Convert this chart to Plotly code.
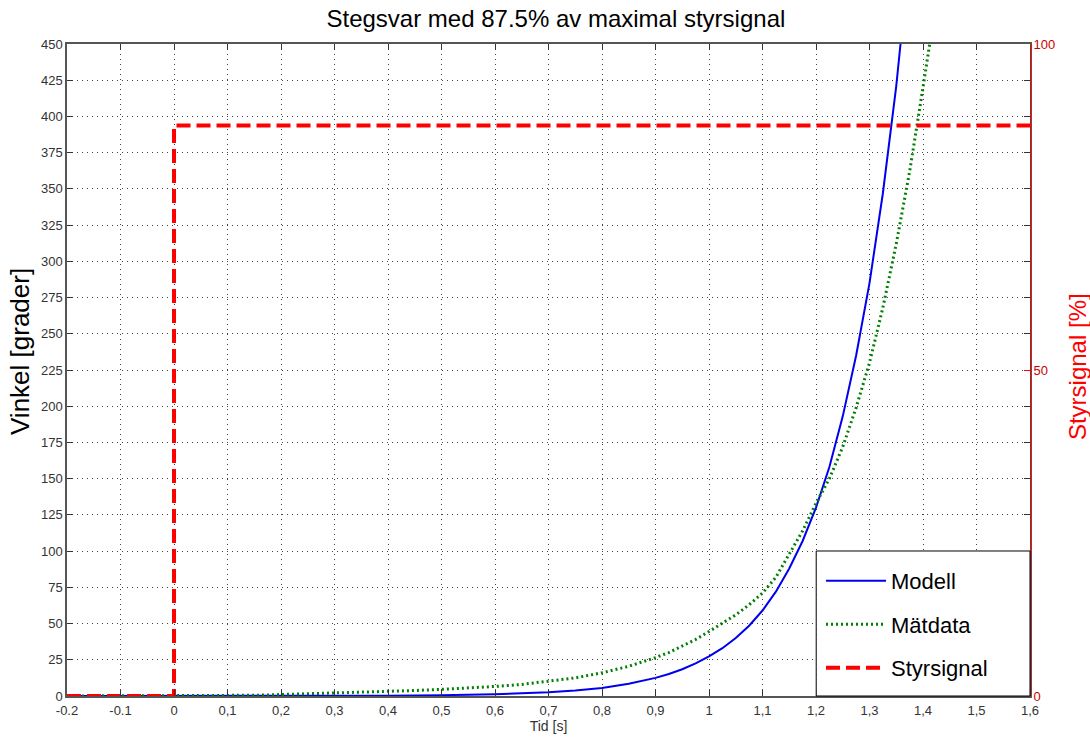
import plotly.graph_objects as go

# ---- data ----
t_model = [-0.2, 0.0, 0.1, 0.2, 0.3, 0.4, 0.5, 0.6, 0.7, 0.75, 0.8, 0.85, 0.9, 0.925, 0.95, 0.975,
           1.0, 1.025, 1.05, 1.075, 1.1, 1.125, 1.15, 1.175, 1.2, 1.225, 1.25, 1.275, 1.3,
           1.325, 1.35, 1.375]
y_model = [0, 0, 0.02, 0.05, 0.12, 0.25, 0.55, 1.2, 2.6, 3.8, 5.6, 8.4, 12.5, 15.2, 18.5, 22.5,
           27.3, 33, 40, 48.5, 59, 72, 88, 107, 130, 158, 193, 235, 285,
           347, 421, 512]

t_meas = [-0.2, 0.135, 0.15, 0.2, 0.25, 0.3, 0.35, 0.4, 0.45, 0.5, 0.55, 0.6, 0.65, 0.7, 0.75,
          0.8, 0.85, 0.9, 0.925, 0.95, 0.975, 1.0, 1.025, 1.05, 1.075, 1.1, 1.125, 1.15,
          1.175, 1.2, 1.225, 1.25, 1.275, 1.3, 1.325, 1.35, 1.375, 1.4, 1.425]
y_meas = [0, 0, 0.5, 1, 1.5, 2, 2.5, 3.2, 3.8, 4.6, 5.5, 6.6, 8, 10, 12.5,
          16, 20.5, 26.5, 30, 34.5, 39, 44.5, 50, 56, 63, 71, 82, 98,
          114, 133, 150, 172, 199, 230, 268, 312, 362, 420, 480]

t_ctrl = [-0.2, 0.0, 0.0, 1.6]
u_ctrl = [0, 0, 87.5, 87.5]

x_tickvals = [-0.2, -0.1, 0, 0.1, 0.2, 0.3, 0.4, 0.5, 0.6, 0.7, 0.8, 0.9, 1.0,
              1.1, 1.2, 1.3, 1.4, 1.5, 1.6]
x_ticktext = ["-0.2", "-0.1", "0", "0,1", "0,2", "0,3", "0,4", "0,5", "0,6", "0,7", "0,8",
              "0,9", "1", "1,1", "1,2", "1,3", "1,4", "1,5", "1,6"]
y_tickvals = list(range(0, 451, 25))
y2_tickvals = [0, 50, 100]

font_family = "Liberation Sans, Arial, sans-serif"
tick_color = "#333333"
grid_color = "#444444"

fig = go.Figure()
fig.add_trace(go.Scatter(x=t_model, y=y_model, mode="lines", name="Modell",
                         line=dict(color="#0000EE", width=2), legendgroup="a"))
fig.add_trace(go.Scatter(x=t_meas, y=y_meas, mode="lines", name="Mätdata",
                         line=dict(color="#007F00", width=3, dash="2px,3px"), legendgroup="b"))
fig.add_trace(go.Scatter(x=t_ctrl, y=u_ctrl, mode="lines", name="Styrsignal", yaxis="y2",
                         line=dict(color="#FF0000", width=4, dash="14px,6px"), legendgroup="c"))

# legend frame (drawn as a shape so it can be wider than plotly's auto legend box)
fig.add_shape(type="rect", xref="paper", yref="paper", x0=0.778, x1=1.0, y0=0.0, y1=0.2224,
              fillcolor="white", line=dict(color="black", width=1), layer="above")

# axis titles as annotations for exact placement
fig.add_annotation(text="Vinkel [grader]", xref="paper", yref="paper", x=-0.0488, y=0.5276,
                   xanchor="center", yanchor="middle", textangle=-90, showarrow=False,
                   font=dict(size=26, color="black"))
fig.add_annotation(text="Styrsignal [%]", xref="paper", yref="paper", x=1.0488, y=0.506,
                   xanchor="center", yanchor="middle", textangle=-90, showarrow=False,
                   font=dict(size=24, color="#FF0000"))

fig.update_layout(
    width=1090, height=737,
    margin=dict(l=67, r=60, t=44, b=41),
    paper_bgcolor="white", plot_bgcolor="white",
    font=dict(family=font_family, color="black"),
    title=dict(text="Stegsvar med 87.5% av maximal styrsignal", x=0.51, xanchor="center",
               y=0.975, yanchor="middle", font=dict(size=24, color="black")),
    showlegend=True,
    legend=dict(x=0.783, y=0.011, xanchor="left", yanchor="bottom",
                bgcolor="rgba(0,0,0,0)", borderwidth=0,
                font=dict(size=22, color="black"), itemwidth=60,
                tracegroupgap=12),
    xaxis=dict(range=[-0.2, 1.6], tickvals=x_tickvals, ticktext=x_ticktext,
               showgrid=True, gridcolor=grid_color, griddash="1px,4px", gridwidth=1,
               showline=True, linecolor="#555555", linewidth=1.5, mirror="ticks",
               ticks="inside", ticklen=6, tickcolor="#333333", ticklabelstandoff=2,
               tickfont=dict(size=13, color=tick_color), zeroline=False, automargin=False,
               title=dict(text="Tid [s]", font=dict(size=14, color=tick_color), standoff=2)),
    yaxis=dict(range=[0, 450], tickvals=y_tickvals,
               showgrid=True, gridcolor=grid_color, griddash="1px,4px", gridwidth=1,
               showline=True, linecolor="#555555", linewidth=1.5, mirror="ticks",
               ticks="inside", ticklen=6, tickcolor="#333333",
               tickfont=dict(size=13, color=tick_color), zeroline=False, automargin=False),
    yaxis2=dict(range=[0, 100], tickvals=y2_tickvals, overlaying="y", side="right",
                showgrid=False, showline=True, linecolor="#FF0000", linewidth=1,
                ticks="inside", ticklen=6, tickcolor="#FF0000",
                tickfont=dict(size=13, color="#CC0000"), zeroline=False, automargin=False),
)

fig.write_html("out.html")
